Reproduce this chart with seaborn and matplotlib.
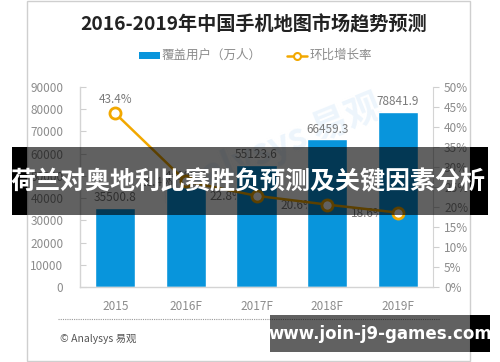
import numpy as np
import pandas as pd
import matplotlib
matplotlib.use("Agg")
import matplotlib.pyplot as plt
from matplotlib.patches import Rectangle
from matplotlib.lines import Line2D
import seaborn as sns

# data
years = ["2015", "2016F", "2017F", "2018F", "2019F"]
users = [35500.8, 44886.5, 55123.6, 66459.3, 78841.9]   # 覆盖用户（万人）
growth = [43.4, 26.4, 22.8, 20.6, 18.6]                # 环比增长率 %
left_ticks = [0, 10000, 20000, 30000, 40000, 50000, 60000, 70000, 80000, 90000]
right_ticks = [0, 5, 10, 15, 20, 25, 30, 35, 40, 45, 50]

blue = "#0895dc"
orange = "#f2a800"
grey_txt = "#8c8c8c"

sns.set_style("white")
plt.rcParams['font.family'] = ['Noto Sans CJK SC', 'DejaVu Sans']

W, H = 500, 362
fig = plt.figure(figsize=(W / 100, H / 100), dpi=100)
fig.patch.set_facecolor("white")

def fx(px):
    return px / W

def fy(py):
    return 1 - py / H

# chart frame
fig.add_artist(Rectangle((fx(27), fy(361)), fx(470) - fx(27), fy(0.5) - fy(361),
                         transform=fig.transFigure, fill=False, ec="#cfcfcf", lw=1))

ax = fig.add_axes([fx(80), fy(287), fx(433) - fx(80), fy(87) - fy(287)])
df = pd.DataFrame({"year": years, "users": users})
sns.barplot(data=df, x="year", y="users", color=blue, saturation=1, width=0.57, ax=ax, zorder=2)
ax.set_ylim(0, 90000)
ax.set_xlim(-0.5, 4.5)
ax.set_yticks(left_ticks)
ax.set_yticklabels([str(t) for t in left_ticks])
ax.set_xlabel("")
ax.set_ylabel("")
ax.tick_params(axis="y", colors="#cfcfcf", labelcolor=grey_txt, labelsize=8.5,
               direction="in", length=4, pad=12, left=True)
ax.tick_params(axis="x", length=0, labelcolor=grey_txt, labelsize=8.5, pad=9)
for s in ["top", "right"]:
    ax.spines[s].set_visible(False)
for s in ["left", "bottom"]:
    ax.spines[s].set_color("#d4d4d4")
    ax.spines[s].set_linewidth(1)

# bar value labels
for i, v in enumerate(users):
    ax.text(i, v + 1700, f"{v:.1f}", ha="center", va="bottom", fontsize=8.5, color="#7a7a7a", zorder=3)

# faint watermark
ax.text(2.2, 62000, "Analysys 易观", fontsize=26, color="#edf5fc", rotation=22,
        ha="center", va="center", zorder=0.3, fontweight="bold")

ax2 = ax.twinx()
sns.lineplot(x=np.arange(len(years)), y=growth, ax=ax2, color=orange, lw=1.8,
             marker="o", markersize=8, markerfacecolor="white", markeredgecolor=orange,
             markeredgewidth=2, zorder=5)
ax2.set_ylim(0, 50)
ax2.set_yticks(right_ticks)
ax2.set_yticklabels([f"{t}%" for t in right_ticks])
ax2.tick_params(axis="y", colors="#cfcfcf", labelcolor=grey_txt, labelsize=8.5,
                direction="out", length=4, pad=4, right=True)
ax2.set_ylabel("")
for s in ["top", "left", "bottom"]:
    ax2.spines[s].set_visible(False)
ax2.spines["right"].set_color("#d4d4d4")

# line value labels (drawn under the bars, as in the source)
for i, g in enumerate(growth):
    y = g / 50 * 90000
    if i == 0:
        ax.text(i, y + 3500, f"{g:.1f}%", ha="center", va="bottom", fontsize=8.5, color="#7a7a7a", zorder=1)
    else:
        ax.text(i - 0.42, y - 300, f"{g:.1f}%", ha="center", va="center", fontsize=8.5, color="#7a7a7a", zorder=1)

# title and legend
fig.text(0.508, fy(25), "2016-2019年中国手机地图市场趋势预测", ha="center", va="center",
         fontsize=13.8, fontweight="bold", color="#222222")
fig.add_artist(Rectangle((fx(139), fy(59)), fx(160) - fx(139), fy(52) - fy(59),
                         transform=fig.transFigure, color=blue, lw=0))
fig.text(fx(162), fy(55.5), "覆盖用户（万人）", ha="left", va="center", fontsize=9, color=grey_txt)
fig.add_artist(Line2D([fx(287), fx(307)], [fy(55.5), fy(55.5)], transform=fig.transFigure,
                      color=orange, lw=1.8, zorder=3))
fig.add_artist(Line2D([fx(297)], [fy(55.5)], transform=fig.transFigure, color=orange,
                      marker="o", markersize=5, markerfacecolor="white", markeredgewidth=1.5, zorder=4))
fig.text(fx(310), fy(55.5), "环比增长率", ha="left", va="center", fontsize=9, color=grey_txt)

# footer
fig.add_artist(Line2D([fx(58), fx(440)], [fy(319), fy(319)], transform=fig.transFigure,
                      color="#9a9a9a", lw=0.8, ls=(0, (1, 1))))
fig.text(fx(60), fy(339), "© Analysys 易观", ha="left", va="center", fontsize=7.5, color="#555555")

# overlay banners
def band(x0, x1, y0, y1, alpha):
    fig.add_artist(Rectangle((fx(x0), fy(y1)), fx(x1) - fx(x0), fy(y0) - fy(y1),
                             transform=fig.transFigure, color="black", alpha=alpha, lw=0, zorder=10))

band(12, 27, 147, 215, 1)
band(27, 470, 147, 215, 0.62)
band(470, 488, 147, 215, 1)
fig.text(fx(248), fy(182), "荷兰对奥地利比赛胜负预测及关键因素分析", ha="center", va="center",
         fontsize=18, fontweight="bold", color="white", zorder=11)

band(270, 470, 315, 352, 0.62)
band(470, 490, 315, 352, 1)
fig.text(fx(380), fy(334), "www.join-j9-games.com", ha="center", va="center",
         fontsize=12, fontweight="bold", color="white", zorder=11, family="DejaVu Sans")

fig.savefig("out.png", dpi=100)
